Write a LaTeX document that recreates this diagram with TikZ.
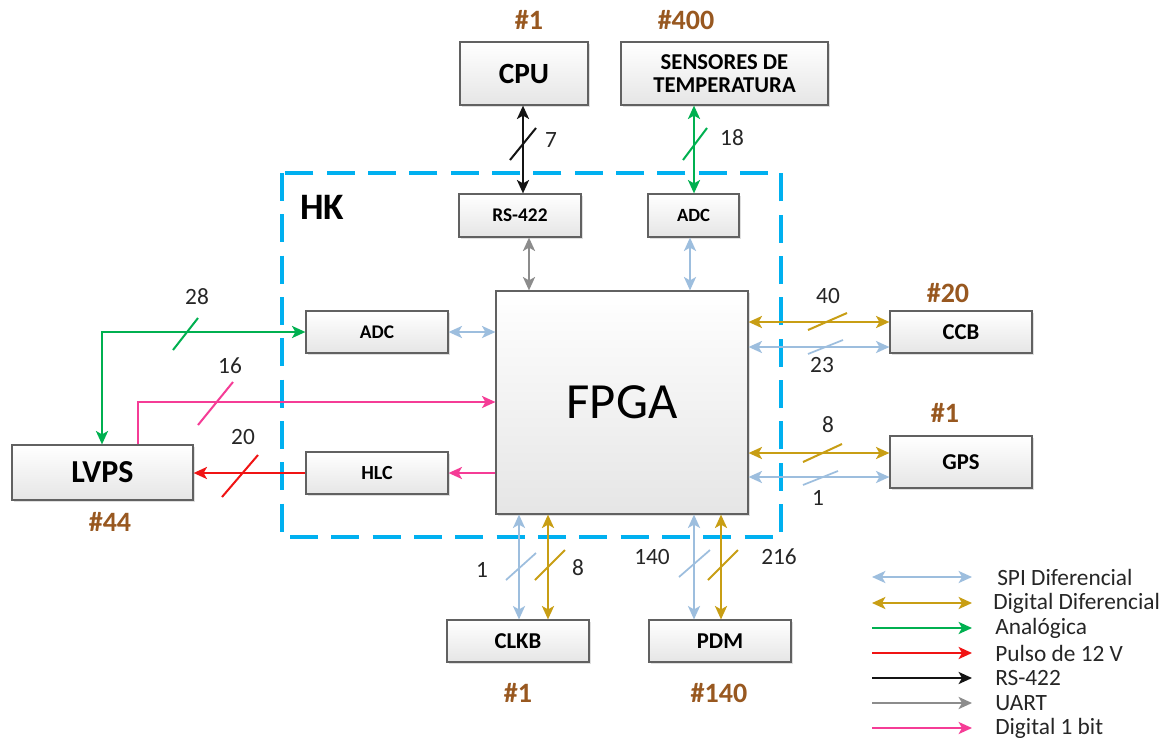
\documentclass[tikz,border=0pt]{standalone}
\usepackage{fontspec}
\setmainfont{Carlito}
\usetikzlibrary{arrows.meta,shadows,calc}
\definecolor{cspi}{RGB}{157,190,222}
\definecolor{cdig}{RGB}{200,158,20}
\definecolor{cana}{RGB}{0,176,80}
\definecolor{cred}{RGB}{240,20,20}
\definecolor{crs}{RGB}{20,20,20}
\definecolor{cuart}{RGB}{140,140,140}
\definecolor{cpink}{RGB}{245,60,150}
\definecolor{cbrown}{RGB}{152,88,32}
\definecolor{chk}{RGB}{0,176,240}
\newcommand{\fsz}[1]{\fontsize{#1}{#1}\selectfont}
\begin{document}
\begin{tikzpicture}[x=0.75pt,y=-0.75pt,
  blk/.style={draw=black!62, line width=0.9pt, top color=white, bottom color=black!10,
    drop shadow={shadow xshift=1.2pt, shadow yshift=-1.2pt, opacity=0.25},
    inner sep=0pt, align=center, font=\bfseries},
  sz/.style 2 args={minimum width=#1*0.75pt, minimum height=#2*0.75pt},
  tip/.style={arrows={-Stealth[length=10pt,width=9pt,inset=2.5pt]}},
  dtip/.style={arrows={Stealth[length=10pt,width=9pt,inset=2.5pt]-Stealth[length=10pt,width=9pt,inset=2.5pt]}},
  spi/.style={draw=cspi, line width=1.6pt},
  dig/.style={draw=cdig, line width=1.9pt},
  ana/.style={draw=cana, line width=1.9pt},
  pul/.style={draw=cred, line width=1.9pt},
  rsl/.style={draw=crs, line width=1.9pt},
  uart/.style={draw=cuart, line width=1.9pt},
  dg1/.style={draw=cpink, line width=1.6pt},
  num/.style={font=\fsz{17.5pt}, text=black!85},
  cnt/.style={font=\bfseries\fsz{21pt}, text=cbrown},
  leg/.style={font=\fsz{17.5pt}, text=black!85, anchor=west, inner sep=0pt}
]
\useasboundingbox (0,0) rectangle (1170,747);
\fill[white] (0,0) rectangle (1170,747);

% HK region
\draw[chk, line width=3pt, dash pattern=on 21pt off 10pt] (282,173) rectangle (781,537);
\node[font=\bfseries\fsz{28pt}] (hk) at (322,207) {HK};

% boxes
\node[blk, sz={128}{63}, font=\bfseries\fsz{22pt}] (cpu) at (524,73.5) {CPU};
\node[blk, sz={207}{63}, font=\bfseries\fsz{17pt}] (sens) at (724.5,73.5) {SENSORES DE\\[0pt]TEMPERATURA};
\node[blk, sz={122}{43}, font=\bfseries\fsz{14.5pt}] (rs) at (520,215.5) {RS-422};
\node[blk, sz={91}{43}, font=\bfseries\fsz{14pt}] (adct) at (693.5,215.5) {ADC};
\node[blk, sz={142}{42}, font=\bfseries\fsz{14.5pt}] (adcl) at (377,332) {ADC};
\node[blk, sz={142}{42}, font=\bfseries\fsz{15pt}] (hlc) at (377,473) {HLC};
\node[blk, sz={252}{223}, font=\fsz{38pt}] (fpga) at (622,402.5) {FPGA};
\node[blk, sz={181}{55}, font=\bfseries\fsz{24pt}] (lvps) at (102.5,472.5) {LVPS};
\node[blk, sz={142}{42}, font=\bfseries\fsz{17pt}] (ccb) at (961,332) {CCB};
\node[blk, sz={142}{52}, font=\bfseries\fsz{17pt}] (gps) at (961,462) {GPS};
\node[blk, sz={142}{42}, font=\bfseries\fsz{17pt}] (clkb) at (518,641) {CLKB};
\node[blk, sz={142}{42}, font=\bfseries\fsz{17pt}] (pdm) at (720,641) {PDM};

% counts
\node[cnt] (n1) at (529,20) {\#1};
\node[cnt] (n2) at (686,20) {\#400};
\node[cnt] (n3) at (110,522) {\#44};
\node[cnt] (n4) at (948,293) {\#20};
\node[cnt] (n5) at (945,413) {\#1};
\node[cnt] (n6) at (518,693) {\#1};
\node[cnt] (n7) at (719,693) {\#140};

% helper coordinates
\coordinate (x523) at (523,0);
\coordinate (x694) at (694,0);
\coordinate (x529) at (529,0);
\coordinate (x690) at (690,0);
\coordinate (x519) at (519,0);
\coordinate (x548) at (548,0);
\coordinate (x694b) at (694,0);
\coordinate (x721) at (721,0);
\coordinate (x102) at (102,0);
\coordinate (x138) at (138,0);
\coordinate (y402) at (0,402);
\coordinate (y322) at (0,322);
\coordinate (y347) at (0,347);
\coordinate (y453) at (0,453);
\coordinate (y477) at (0,477);

% top connectors
\draw[rsl,dtip] (cpu.south -| x523) -- (rs.north -| x523);
\draw[rsl, line width=1.5pt] (510,160) -- (536,128);
\node[num] (l7) at (551,140) {7};
\draw[ana,dtip] (sens.south -| x694) -- (adct.north -| x694);
\draw[ana, line width=1.5pt] (683,160) -- (707,128);
\node[num] (l18) at (732,138) {18};
\draw[uart,dtip] (rs.south -| x529) -- (fpga.north -| x529);
\draw[spi,dtip] (adct.south -| x690) -- (fpga.north -| x690);

% left side
\draw[spi,dtip] (adcl.east) -- (fpga.west |- adcl.east);
\draw[ana,dtip] (adcl.west) -| (lvps.north -| x102);
\draw[ana, line width=1.5pt] (173,350) -- (198,318);
\node[num] (l28) at (197,297) {28};
\draw[dg1,tip] (lvps.north -| x138) |- (fpga.west |- y402);
\draw[dg1, line width=1.5pt] (198,425) -- (233,382);
\node[num] (l16) at (230,366) {16};
\draw[pul,tip] (hlc.west) -- (lvps.east |- hlc.west);
\draw[pul, line width=1.5pt] (222,497) -- (258,455);
\node[num] (l20) at (243,437) {20};
\draw[dg1,tip] (fpga.west |- hlc.east) -- (hlc.east);

% right side
\draw[dig,dtip] (fpga.east |- y322) -- (ccb.west |- y322);
\draw[dig, line width=1.5pt] (808,330) -- (847,313);
\node[num] (l40) at (828,296) {40};
\draw[spi,dtip] (fpga.east |- y347) -- (ccb.west |- y347);
\draw[spi, line width=1.3pt] (808,354) -- (843,340);
\node[num] (l23) at (822,365) {23};
\draw[dig,dtip] (fpga.east |- y453) -- (gps.west |- y453);
\draw[dig, line width=1.5pt] (803,462) -- (842,444);
\node[num] (l8) at (828,425) {8};
\draw[spi,dtip] (fpga.east |- y477) -- (gps.west |- y477);
\draw[spi, line width=1.3pt] (803,485) -- (838,471);
\node[num] (l1) at (818,498) {1};

% bottom
\draw[spi,dtip] (fpga.south -| x519) -- (clkb.north -| x519);
\draw[spi, line width=1.3pt] (506,580) -- (536,553);
\node[num] (lc1) at (482,570) {1};
\draw[dig,dtip] (fpga.south -| x548) -- (clkb.north -| x548);
\draw[dig, line width=1.5pt] (535,580) -- (565,550);
\node[num] (lc8) at (578,568) {8};
\draw[spi,dtip] (fpga.south -| x694b) -- (pdm.north -| x694b);
\draw[spi, line width=1.3pt] (679,577) -- (710,550);
\node[num] (lp140) at (652,557) {140};
\draw[dig,dtip] (fpga.south -| x721) -- (pdm.north -| x721);
\draw[dig, line width=1.5pt] (708,580) -- (738,550);
\node[num] (lp216) at (779,557) {216};

% legend
\foreach \i/\y in {1/577,2/603,3/628,4/653,5/678,6/703,7/728}{
  \coordinate (la\i) at (872,\y);
  \coordinate (lb\i) at (972,\y);
}
\draw[spi,dtip] (la1) -- (lb1);
\draw[dig,dtip] (la2) -- (lb2);
\draw[ana,tip] (la3) -- (lb3);
\draw[pul,tip] (la4) -- (lb4);
\draw[rsl,tip] (la5) -- (lb5);
\draw[uart,tip] (la6) -- (lb6);
\draw[dg1,tip] (la7) -- (lb7);
\node[leg] (t1) at (997,577) {SPI Diferencial};
\node[leg] (t2) at (993,603) {Digital Diferencial};
\node[leg] (t3) at (995,628) {Analógica};
\node[leg] (t4) at (995,653) {Pulso de 12 V};
\node[leg] (t5) at (995,678) {RS-422};
\node[leg] (t6) at (995,703) {UART};
\node[leg] (t7) at (995,728) {Digital 1 bit};
\end{tikzpicture}
\end{document}
